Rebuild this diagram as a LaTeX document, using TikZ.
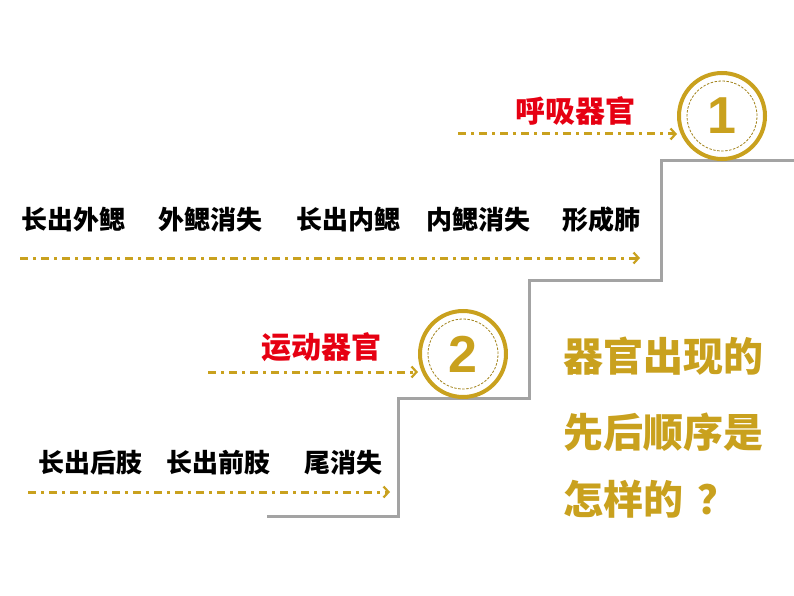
\documentclass[tikz,border=0pt]{standalone}
\usepackage{fontspec}
\setmainfont{Liberation Sans}
\newfontfamily\cjk[BoldFont={Noto Sans CJK SC Black}]{Noto Sans CJK SC}
\usetikzlibrary{arrows.meta,positioning}
\definecolor{gold}{HTML}{C9A11E}
\definecolor{stepgray}{HTML}{A3A3A3}
\definecolor{organred}{HTML}{E60012}

\begin{document}
\begin{tikzpicture}[x=1pt,y=-1pt,
  lbl/.style={font=\cjk\bfseries\fontsize{26}{26}\selectfont,inner sep=0pt},
  organ/.style={font=\cjk\bfseries\fontsize{30}{30}\selectfont,text=organred,inner sep=0pt},
  ask/.style={font=\cjk\bfseries\fontsize{40}{40}\selectfont,text=gold,inner sep=0pt,anchor=west},
  flow/.style={gold,line width=3pt,dash pattern=on 8pt off 5pt on 3pt off 5pt,
    -{Straight Barb[length=5pt,width=11pt,line width=2.2pt]}},
  badge/.style={circle,draw=gold,line width=4pt,minimum size=86pt,inner sep=0pt,
    text=gold,font=\bfseries\fontsize{52}{52}\selectfont}]
  \useasboundingbox (0,0) rectangle (794,596);

  % staircase
  \draw[stepgray,line width=3pt] (267,516) -- (398,516) -- (398,398) -- (529,398)
    -- (529,280) -- (661,280) -- (661,161) -- (794,161);

  % badges
  \node[badge] (C1) at (722,116) {1};
  \node[badge] (C2) at (463,354) {2};
  \foreach \c in {C1,C2}
    \draw[gold!80!black,line width=0.8pt,dash pattern=on 2.5pt off 1.5pt] (\c.center) circle (35pt);

  % respiration
  \node[organ] (R) at (575,111) {呼吸器官};
  \coordinate (R0) at (458,134);
  \draw[flow] (R0) -- (R0 -| C1.west);

  \foreach \t/\x [count=\n] in {长出外鳃/73,外鳃消失/210,长出内鳃/348,内鳃消失/478,形成肺/601}
    \node[lbl] (A\n) at (\x,220) {\t};
  \coordinate (A0) at (20,258);
  \coordinate (A9) at (640,258);
  \draw[flow] (A0) -- (A9);

  % movement
  \node[organ] (M) at (321,347) {运动器官};
  \coordinate (M0) at (208,372);
  \draw[flow] (M0) -- (M0 -| C2.west);

  \foreach \t/\x [count=\n] in {长出后肢/90,长出前肢/218,尾消失/343}
    \node[lbl] (B\n) at (\x,463) {\t};
  \coordinate (B0) at (28,492);
  \coordinate (B9) at (390,492);
  \draw[flow] (B0) -- (B9);

  % question
  \node[ask] (Q1) at (563,356) {器官出现的};
  \node[ask] (Q2) at (563,432) {先后顺序是};
  \node[ask] (Q3) at (563,499) {怎样的\hspace{14pt}？};
\end{tikzpicture}
\end{document}
